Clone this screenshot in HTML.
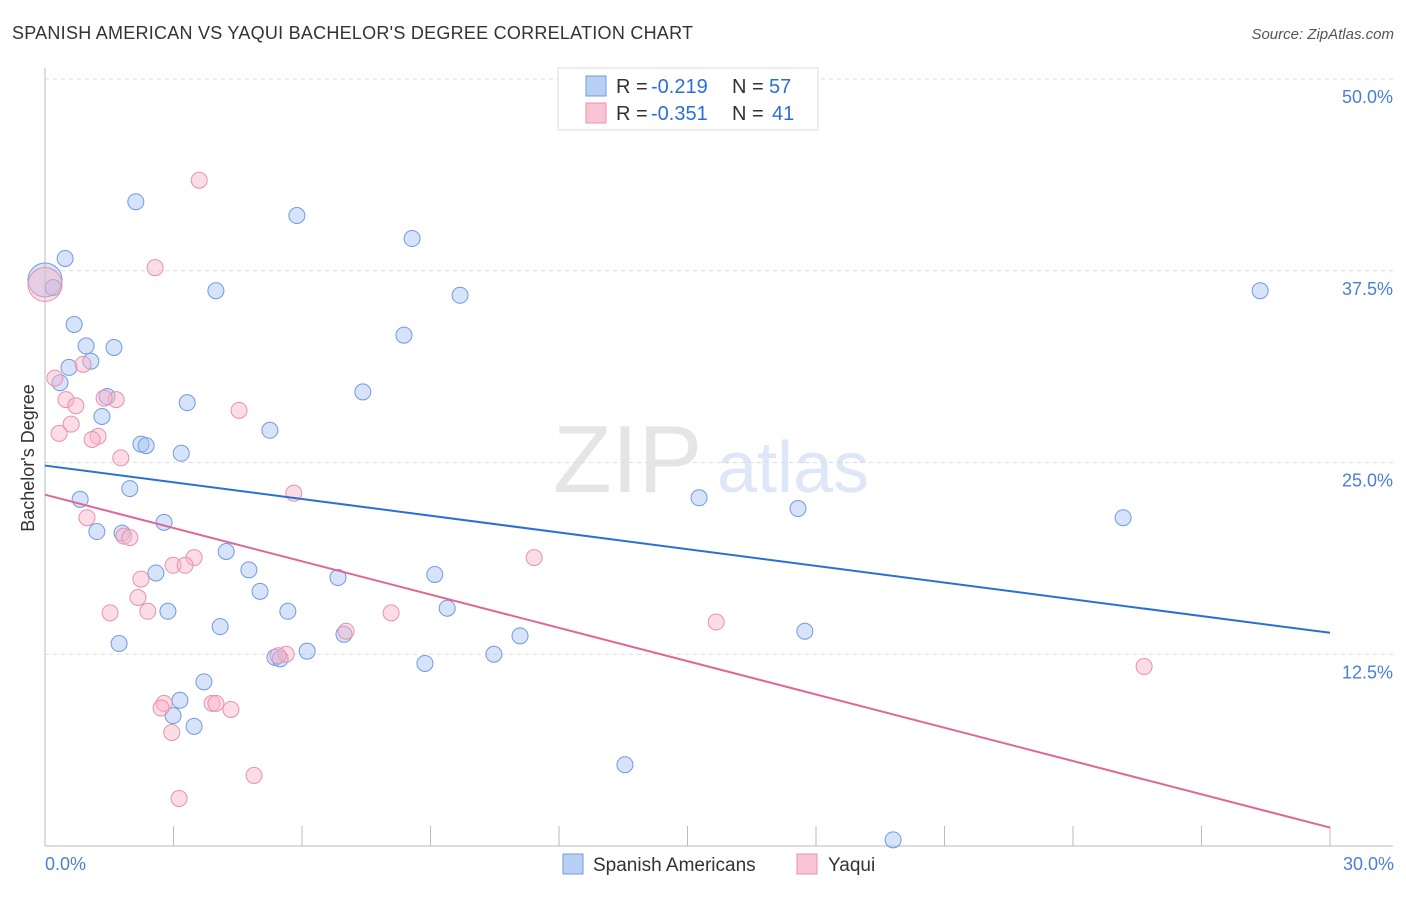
<!DOCTYPE html>
<html><head><meta charset="utf-8"><style>
body{margin:0;background:#fff;font-family:"Liberation Sans",sans-serif;}
svg text{font-family:"Liberation Sans",sans-serif;}
</style></head><body>
<svg width="1406" height="892" xmlns="http://www.w3.org/2000/svg">
<text x="12" y="39" font-size="18" fill="#333" textLength="681">SPANISH AMERICAN VS YAQUI BACHELOR'S DEGREE CORRELATION CHART</text>
<text x="1394" y="39" font-size="15" fill="#555" font-style="italic" text-anchor="end">Source: ZipAtlas.com</text>
<g opacity="0.25">
<text x="553" y="492" font-size="96" font-family="Liberation Serif" fill="#999">ZIP</text>
<text x="717" y="492" font-size="72" fill="#7aa3e0">atlas</text>
</g>
<g id="grid"></g>
<g id="axes"></g>
<g id="marks"></g>
<text x="34" y="458" font-size="18" fill="#333" transform="rotate(-90 34 458)" text-anchor="middle">Bachelor's Degree</text>
<text x="45" y="870" font-size="18" fill="#4a7fd4">0.0%</text>
<text x="1394" y="870" font-size="18" fill="#4a7fd4" text-anchor="end">30.0%</text>
<g>
<rect x="558" y="68" width="260" height="62" fill="#fff" stroke="#ddd"/>
<rect x="586" y="76" width="20" height="20" fill="#b9d0f5" stroke="#6f9be0"/>
<rect x="586" y="103" width="20" height="20" fill="#f9c5d5" stroke="#e891ad"/>
<text x="616" y="93" font-size="20" fill="#333">R =</text>
<text x="651" y="93" font-size="20" fill="#2a6fd6">-0.219</text>
<text x="732" y="93" font-size="20" fill="#333">N =</text>
<text x="769" y="93" font-size="20" fill="#2a6fd6">57</text>
<text x="616" y="120" font-size="20" fill="#333">R =</text>
<text x="651" y="120" font-size="20" fill="#2a6fd6">-0.351</text>
<text x="732" y="120" font-size="20" fill="#333">N =</text>
<text x="772" y="120" font-size="20" fill="#2a6fd6">41</text>
</g>
<g>
<rect x="563" y="854" width="20" height="20" fill="#b9d0f5" stroke="#6f9be0"/>
<text x="593" y="871" font-size="19" fill="#333">Spanish Americans</text>
<rect x="797" y="854" width="20" height="20" fill="#f9c5d5" stroke="#e891ad"/>
<text x="828" y="871" font-size="19" fill="#333">Yaqui</text>
</g>
</svg>
<script>
const blueX=[0,0.19,0.47,2.12,5.88,8.57,3.99,9.69,28.37,0.68,8.38,0.96,1.61,0.56,1.07,0.35,7.42,1.45,3.32,1.33,5.25,2.24,2.36,3.18,1.98,0.82,15.27,17.58,25.17,2.78,1.21,1.80,4.23,4.76,2.59,6.84,9.10,5.02,2.87,5.67,9.39,4.09,6.98,11.09,17.74,1.73,6.12,5.37,5.49,8.87,10.48,3.71,3.15,2.99,3.48,13.54,19.80];
const blueY=[36.9,36.4,38.3,42.0,41.1,39.6,36.2,35.9,36.2,34.0,33.3,32.6,32.5,31.2,31.6,30.2,29.6,29.3,28.9,28.0,27.1,26.2,26.1,25.6,23.3,22.6,22.7,22.0,21.4,21.1,20.5,20.4,19.2,18.0,17.8,17.5,17.7,16.6,15.3,15.3,15.5,14.3,13.8,13.7,14.0,13.2,12.7,12.3,12.2,11.9,12.5,10.7,9.5,8.5,7.8,5.3,0.4];
const pinkX=[0,3.60,2.57,0.23,0.89,0.49,0.72,1.66,1.38,4.53,0.61,0.33,1.24,1.10,1.77,5.81,0.98,1.84,1.98,11.42,3.48,2.99,3.27,2.24,2.17,1.52,2.40,8.08,7.03,15.67,5.63,5.44,25.66,2.78,2.71,3.90,3.99,4.34,2.96,4.88,3.13];
const pinkY=[36.6,43.4,37.7,30.5,31.4,29.1,28.7,29.1,29.2,28.4,27.5,26.9,26.7,26.5,25.3,23.0,21.4,20.2,20.1,18.8,18.8,18.3,18.3,17.4,16.2,15.2,15.3,15.2,14.0,14.6,12.5,12.4,11.7,9.3,9.0,9.3,9.3,8.9,7.4,4.6,3.1];
const blueTrend=[24.8,13.9];
const pinkTrend=[22.9,1.2];
const yTicks=[50,37.5,25,12.5];
const yTickLabels=["50.0%","37.5%","25.0%","12.5%"];
const xTicks=[3,6,9,12,15,18,21,24,27,30];
const NS="http://www.w3.org/2000/svg";
const sx=v=>45+v/30*1285;
const sy=v=>846-v/50*767;
function mk(tag,attrs,parent){const e=document.createElementNS(NS,tag);for(const k in attrs)e.setAttribute(k,attrs[k]);document.getElementById(parent).appendChild(e);return e;}
yTicks.forEach((t,i)=>{
 const l=mk('line',{x1:45,x2:1393,y1:sy(t),y2:sy(t),stroke:'#ddd','stroke-dasharray':'4,4'},'grid');
 
 
 const tx=mk('text',{x:1393,y:sy(t)+24,'font-size':18,fill:'#4a7fd4','text-anchor':'end'},'grid');
 tx.textContent=yTickLabels[i];
 
 
});
const ax=mk('line',{x1:45,x2:45,y1:68,y2:846,stroke:'#bbb'},'axes');


const bx=mk('line',{x1:45,x2:1393,y1:846,y2:846,stroke:'#bbb'},'axes');


xTicks.forEach(t=>{
 const l=mk('line',{x1:sx(t),x2:sx(t),y1:826,y2:846,stroke:'#bbb'},'axes');
 
 
});
function pts(X,Y,fill,stroke,name){
 X.forEach((x,i)=>{
  const c=mk('circle',{cx:sx(x),cy:sy(Y[i]),r:(i===0?17:8),fill:fill,stroke:stroke,'stroke-width':1},'marks');
  
  
 });
}
pts(blueX,blueY,'rgba(164,194,244,0.45)','#6f9be0','spanish-american-point');
pts(pinkX,pinkY,'rgba(248,180,200,0.45)','#e891ad','yaqui-point');
const bl=mk('line',{x1:sx(0),y1:sy(blueTrend[0]),x2:sx(30),y2:sy(blueTrend[1]),stroke:'#2a6fd6','stroke-width':2},'marks');


const pl=mk('line',{x1:sx(0),y1:sy(pinkTrend[0]),x2:sx(30),y2:sy(pinkTrend[1]),stroke:'#e06696','stroke-width':2},'marks');


</script>
</body></html>
